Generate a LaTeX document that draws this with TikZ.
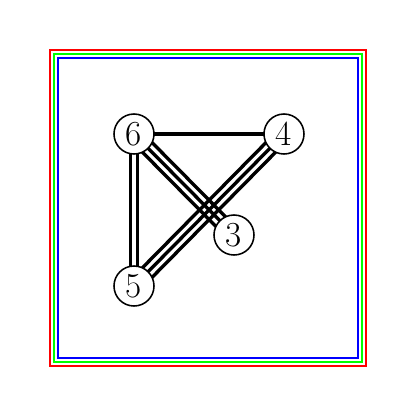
\documentclass[tikz,border=0pt]{standalone}
\usetikzlibrary{calc,backgrounds}
\begin{document}
\begin{tikzpicture}[
        x=0.025cm, y=-0.025cm,
        vertex/.style={
            circle,
            draw,
            fill=white,
            line width=1.1pt,
            inner sep=0pt,
            minimum size=1.0cm,
            font=\fontsize{25}{29}\selectfont
        },
        edge/.style={line width=2.4pt},
        frame/.style={line width=1.45pt}
    ]
        \useasboundingbox (0,0) rectangle (417,417);
        \draw[frame,red] (50,50) rectangle (366,366);
        \draw[frame,green] (54,54) rectangle (362,362);
        \draw[frame,blue] (58,58) rectangle (358,358);

        \node[vertex] (v6) at (134,134) {6};
        \node[vertex] (v4) at (284,134) {4};
        \node[vertex] (v3) at (234,235) {3};
        \node[vertex] (v5) at (134,286) {5};

        \begin{scope}[on background layer]
            \draw[edge] (v6.center) -- (v4.center);
            \foreach \o in {-3.4,3.4}
                \draw[edge] ($(v6.center)!\o*0.025cm!90:(v5.center)$) -- ($(v5.center)!\o*0.025cm!-90:(v6.center)$);
            \foreach \o in {-6.8,0,6.8}
                \draw[edge] ($(v6.center)!\o*0.025cm!90:(v3.center)$) -- ($(v3.center)!\o*0.025cm!-90:(v6.center)$);
            \foreach \o in {-6.8,0,6.8}
                \draw[edge] ($(v5.center)!\o*0.025cm!90:(v4.center)$) -- ($(v4.center)!\o*0.025cm!-90:(v5.center)$);
        \end{scope}
    \end{tikzpicture}
\end{document}
